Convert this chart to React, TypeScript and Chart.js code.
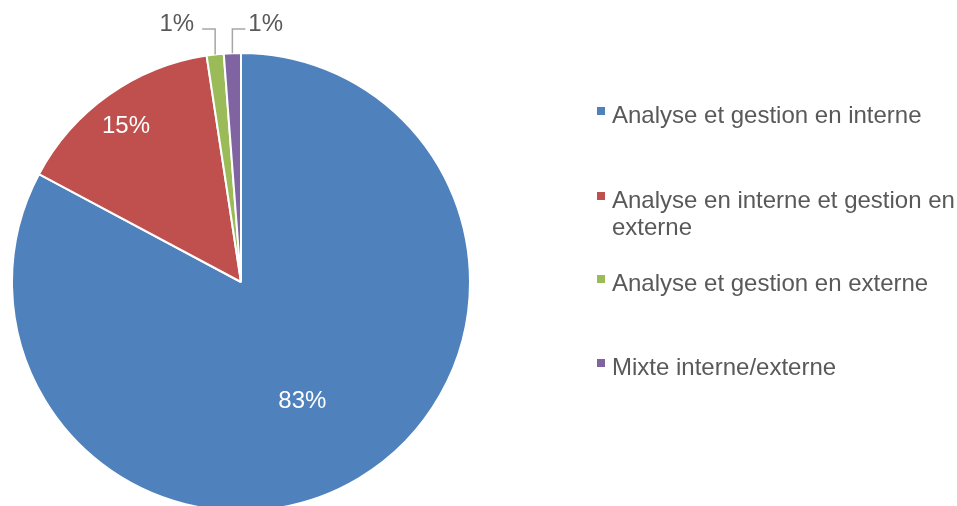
import React, { useEffect, useRef } from 'react';
import { Chart, registerables } from 'chart.js';

Chart.register(...registerables);

const categories = [
  'Analyse et gestion en interne',
  'Analyse en interne et gestion en externe',
  'Analyse et gestion en externe',
  'Mixte interne/externe',
];
const shares = [82.8, 14.8, 1.2, 1.2];
const colors = ['#4F81BD', '#C0504D', '#9BBB59', '#8064A2'];

const FONT = '"Liberation Sans", Arial, Helvetica, sans-serif';
const TEXT_GRAY = '#595959';

const labelPlugin = {
  id: 'pieLabels',
  afterDatasetsDraw(chart: any) {
    const ctx = chart.ctx as CanvasRenderingContext2D;
    const meta = chart.getDatasetMeta(0);
    const data = chart.data.datasets[0].data as number[];
    const total = data.reduce((a, b) => a + b, 0);
    ctx.save();
    ctx.font = `24px ${FONT}`;
    ctx.textBaseline = 'middle';
    let smallCount = 0;
    meta.data.forEach((arc: any, i: number) => {
      const { x, y, startAngle, endAngle, outerRadius } = arc.getProps(
        ['x', 'y', 'startAngle', 'endAngle', 'outerRadius'],
        true
      );
      const mid = (startAngle + endAngle) / 2;
      const pct = (data[i] / total) * 100;
      const text = Math.round(pct) + '%';
      if (pct >= 5) {
        const big = pct > 50;
        const f = big ? 0.585 : 0.846;
        const a = big ? mid + 0.065 : mid - 0.02;
        ctx.fillStyle = '#ffffff';
        ctx.textAlign = 'center';
        ctx.fillText(text, x + Math.cos(a) * outerRadius * f, y + Math.sin(a) * outerRadius * f);
      } else {
        const ax = x + Math.cos(mid) * outerRadius;
        const ay = y + Math.sin(mid) * outerRadius;
        const lineY = y - outerRadius - 24;
        const goLeft = smallCount % 2 === 0;
        smallCount++;
        const ex = goLeft ? ax - 13 : ax + 13;
        ctx.strokeStyle = '#A6A6A6';
        ctx.lineWidth = 1.5;
        ctx.beginPath();
        ctx.moveTo(ax, ay);
        ctx.lineTo(ax, lineY);
        ctx.lineTo(ex, lineY);
        ctx.stroke();
        ctx.fillStyle = TEXT_GRAY;
        ctx.textAlign = goLeft ? 'right' : 'left';
        ctx.fillText(text, goLeft ? ex - 8 : ex + 3, lineY - 5);
      }
    });
    ctx.restore();
  },
};

const legendTops = [101, 186, 269, 353];

export default function App() {
  const canvasRef = useRef<HTMLCanvasElement | null>(null);

  useEffect(() => {
    if (!canvasRef.current) return;
    const chart = new Chart(canvasRef.current, {
      type: 'pie',
      data: {
        labels: categories,
        datasets: [
          {
            data: shares,
            backgroundColor: colors,
            borderColor: '#ffffff',
            borderWidth: 2,
          },
        ],
      },
      options: {
        responsive: false,
        maintainAspectRatio: false,
        animation: false,
        layout: { padding: { left: 11, top: 52, right: 486, bottom: 3 } },
        plugins: {
          legend: { display: false },
          tooltip: { enabled: false },
        },
      },
      plugins: [labelPlugin],
    });
    return () => chart.destroy();
  }, []);

  return (
    <div
      style={{
        position: 'absolute',
        left: 0,
        top: 0,
        width: 957,
        height: 506,
        overflow: 'hidden',
        background: '#ffffff',
        fontFamily: FONT,
      }}
    >
      <canvas ref={canvasRef} width={957} height={515} style={{ display: 'block' }} />
      {categories.map((c, i) => (
        <div
          key={c}
          style={{
            position: 'absolute',
            left: 597,
            top: legendTops[i],
            width: 360,
            fontSize: 24,
            lineHeight: '27px',
            color: TEXT_GRAY,
          }}
        >
          <span
            style={{
              position: 'absolute',
              left: 0,
              top: 6,
              width: 8,
              height: 8,
              background: colors[i],
            }}
          />
          <div style={{ marginLeft: 15, width: 346 }}>{c}</div>
        </div>
      ))}
    </div>
  );
}
